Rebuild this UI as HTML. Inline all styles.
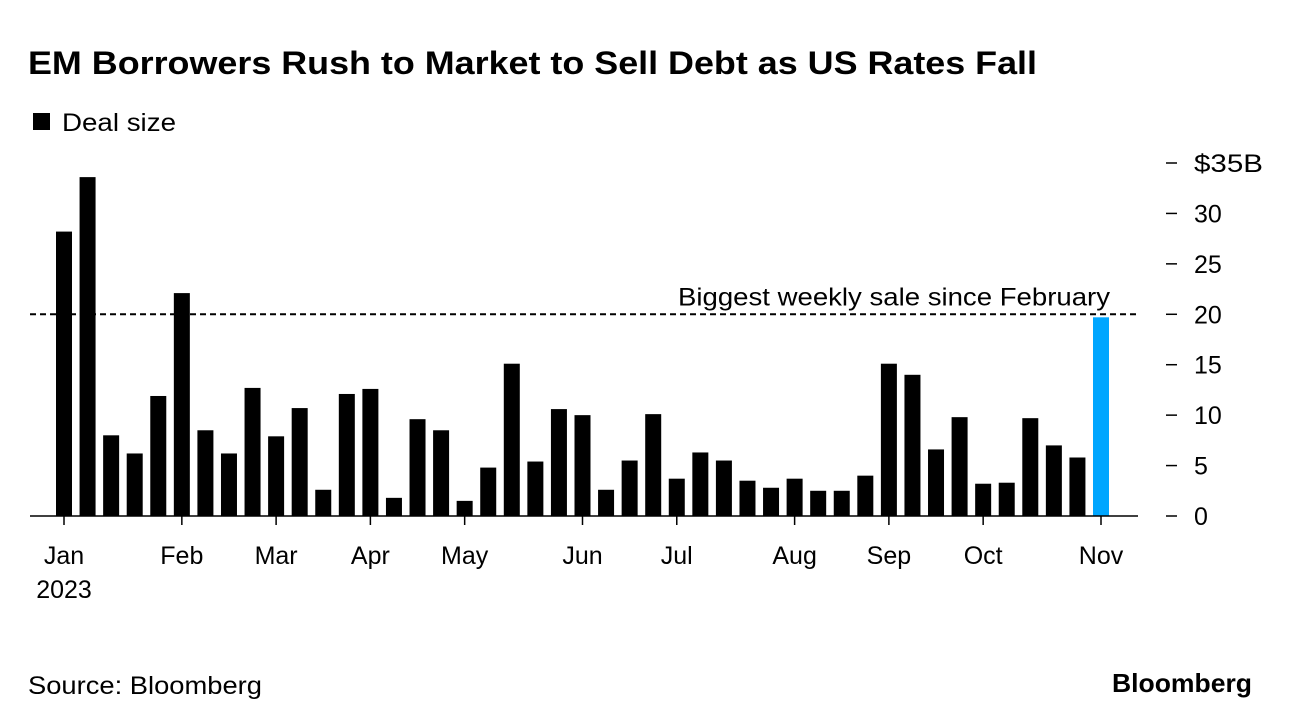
<!DOCTYPE html>
<html><head><meta charset="utf-8"><style>
body{margin:0;background:#fff;width:1292px;height:726px;overflow:hidden;font-family:"Liberation Sans",sans-serif;}
svg{display:block}
</style></head><body>
<svg id="c" width="1292" height="726">
<text x="28" y="74" font-size="32" font-weight="bold" fill="#000" textLength="1009" lengthAdjust="spacingAndGlyphs">EM Borrowers Rush to Market to Sell Debt as US Rates Fall</text>
<rect x="33" y="113" width="17" height="17" fill="#000"/>
<text x="62" y="131" font-size="25" fill="#000" textLength="114" lengthAdjust="spacingAndGlyphs">Deal size</text>
<text x="28" y="694" font-size="25" fill="#000" textLength="234" lengthAdjust="spacingAndGlyphs">Source: Bloomberg</text>
<text x="1252" y="692" font-size="26" font-weight="bold" text-anchor="end" fill="#000" textLength="140" lengthAdjust="spacingAndGlyphs">Bloomberg</text>
<g id="plot"></g>
</svg>
<script>
const values=[28.2,33.6,8.0,6.2,11.9,22.1,8.5,6.2,12.7,7.9,10.7,2.6,12.1,12.6,1.8,9.6,8.5,1.5,4.8,15.1,5.4,10.6,10.0,2.6,5.5,10.1,3.7,6.3,5.5,3.5,2.8,3.7,2.5,2.5,4.0,15.1,14.0,6.6,9.8,3.2,3.3,9.7,7.0,5.8,19.7];
const monthLabels=["Jan","Feb","Mar","Apr","May","Jun","Jul","Aug","Sep","Oct","Nov"];
const monthIndex=[0,5,9,13,17,22,26,31,35,39,44];
const yTicks=[0,5,10,15,20,25,30,35];
const refValue=20;
const NS="http://www.w3.org/2000/svg";
const g=document.getElementById('plot');
const x0=64,step=(1101-64)/44;
const xs=i=>x0+i*step;
const ys=v=>516-v*(516-163)/35;
function el(t,a,p){const e=document.createElementNS(NS,t);for(const k in a)e.setAttribute(k,a[k]);(p||g).appendChild(e);return e;}
values.forEach((v,i)=>{
  const last=i===values.length-1;
  const r=el('rect',{x:xs(i)-8,y:ys(v),width:16,height:ys(0)-ys(v),fill:last?'#00a6ff':'#000'});
  
  
});
const ax=el('line',{x1:30,x2:1138,y1:ys(0),y2:ys(0),stroke:'#000','stroke-width':1.5});


monthLabels.forEach((m,k)=>{
  const x=xs(monthIndex[k]);
  const t=el('line',{x1:x,x2:x,y1:ys(0),y2:ys(0)+9,stroke:'#000','stroke-width':1.5});
  
  
  const l=el('text',{x:x,y:564,'font-size':25,'text-anchor':'middle',fill:'#000'});
  l.textContent=m;
  
  
});
const yr=el('text',{x:xs(0),y:598,'font-size':25,'text-anchor':'middle',fill:'#000'});
yr.textContent='2023';


yTicks.forEach(v=>{
  const y=ys(v);
  const t=el('line',{x1:1166,x2:1177,y1:y,y2:y,stroke:'#000','stroke-width':1.5});
  
  
  const l=el('text',{x:1194,y:y+9,'font-size':25,fill:'#000'});
  l.textContent=v===35?'$35B':String(v);
  if(v===35){l.setAttribute('textLength','69');l.setAttribute('lengthAdjust','spacingAndGlyphs');}
  
  
});
const rl=el('line',{x1:30,x2:1138,y1:ys(refValue),y2:ys(refValue),stroke:'#000','stroke-width':2,'stroke-dasharray':'6,4'});


const an=el('text',{x:1110,y:ys(refValue)-9,'font-size':25,'text-anchor':'end',fill:'#000',textLength:432,lengthAdjust:'spacingAndGlyphs'});
an.textContent='Biggest weekly sale since February';


</script>
</body></html>
